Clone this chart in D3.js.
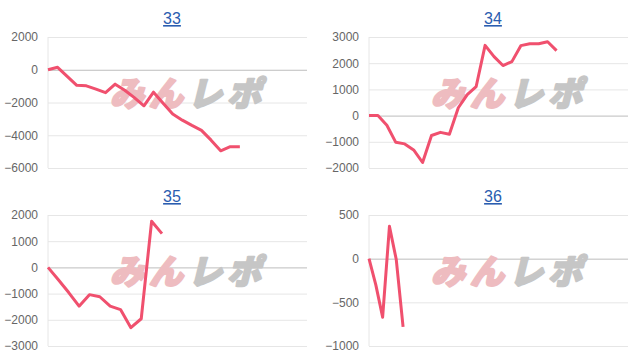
<!DOCTYPE html>
<html>
<head>
<meta charset="utf-8">
<script src="https://cdn.jsdelivr.net/npm/d3@7"></script>
<style>
  body { margin: 0; background: #fff; }
  svg { display: block; font-family: "Liberation Sans", Arial, sans-serif; }
</style>
</head>
<body>
<div id="chart"></div>
<script>
// one entry per machine panel
let titles = ["33", "34", "35", "36"];

let values33 = [0, 150, -400, -950, -980, -1180, -1400, -880, -1250, -1700, -2200,
  -1370, -2040, -2700, -3080, -3400, -3700, -4300, -4950, -4700, -4700];
let values34 = [0, 0, -370, -1020, -1080, -1310, -1790, -760, -640, -710, 300,
  800, 1110, 2680, 2250, 1910, 2060, 2670, 2740, 2740, 2820, 2480];
let values35 = [0, -470, -960, -1480, -1040, -1120, -1480, -1610, -2300, -1960, 1760, 1290];
let values36 = [0, -300, -670, 370, -10, -780];

let ticks33 = [2000, 0, -2000, -4000, -6000];
let ticks34 = [3000, 2000, 1000, 0, -1000, -2000];
let ticks35 = [2000, 1000, 0, -1000, -2000, -3000];
let ticks36 = [500, 0, -500, -1000];

// number of x slots on each panel's category axis
let slots = [27, 29, 25, 38];

let series = [values33, values34, values35, values36];
let tickSets = [ticks33, ticks34, ticks35, ticks36];

let width = 636, height = 360;
let plotLeft = 48, plotRight = 307, plotTop = 37, plotBottom = 168;
let panelDx = 321, panelDy = 178;

let svg = d3.select("#chart")
  .append("svg")
  .attr("width", width)
  .attr("height", height);

svg.append("rect")
  .attr("width", width)
  .attr("height", height)
  .attr("fill", "#fff");

let line = (x, y) => d3.line()
  .x((d, i) => x(i))
  .y(d => y(d));

series.forEach((vals, k) => {
  let ticks = tickSets[k];
  let g = svg.append("g")
    .attr("transform", `translate(${(k % 2) * panelDx},${Math.floor(k / 2) * panelDy})`);

  let x = d3.scaleLinear().domain([0, slots[k]]).range([plotLeft, plotRight]);
  let y = d3.scaleLinear().domain([d3.min(ticks), d3.max(ticks)]).range([plotBottom, plotTop]);

  // title link
  g.append("text")
    .attr("x", 172)
    .attr("y", 24)
    .attr("text-anchor", "middle")
    .attr("font-size", 16)
    .attr("fill", "#2a5db0")
    .attr("text-decoration", "underline")
    .text(titles[k]);

  // grid
  let yAxis = d3.axisLeft(y)
    .tickValues(ticks)
    .tickSize(-(plotRight - plotLeft))
    .tickPadding(10)
    .tickFormat(d3.format("d"));

  let ax = g.append("g")
    .attr("transform", `translate(${plotLeft},0)`)
    .call(yAxis);
  ax.select(".domain").remove();
  ax.selectAll(".tick line")
    .attr("stroke", d => d === 0 ? "#bdbdbd" : "#e6e6e6");
  ax.selectAll(".tick text")
    .attr("fill", "#666")
    .attr("font-size", 12)
    .attr("font-family", "\"Liberation Sans\", Arial, sans-serif");

  g.append("line")
    .attr("x1", plotLeft).attr("x2", plotLeft)
    .attr("y1", plotTop).attr("y2", plotBottom)
    .attr("stroke", "#e6e6e6");

  // watermark
  let wm = g.append("text")
    .attr("transform", `translate(110,106) skewX(-14)`)
    .attr("font-family", "\"Noto Sans CJK JP\", sans-serif")
    .attr("font-weight", 900)
    .attr("font-size", 34)
    .attr("letter-spacing", 5)
    .attr("stroke-width", 2.2)
    .attr("stroke-linejoin", "round");
  wm.append("tspan").attr("fill", "#eebcc0").attr("stroke", "#eebcc0").text("みん");
  wm.append("tspan").attr("fill", "#c6c6c6").attr("stroke", "#c6c6c6").text("レポ");

  g.append("path")
    .datum(vals)
    .attr("fill", "none")
    .attr("stroke", "#f0506e")
    .attr("stroke-width", 3)
    .attr("stroke-linejoin", "round")
    .attr("d", line(x, y));
});
</script>
</body>
</html>
